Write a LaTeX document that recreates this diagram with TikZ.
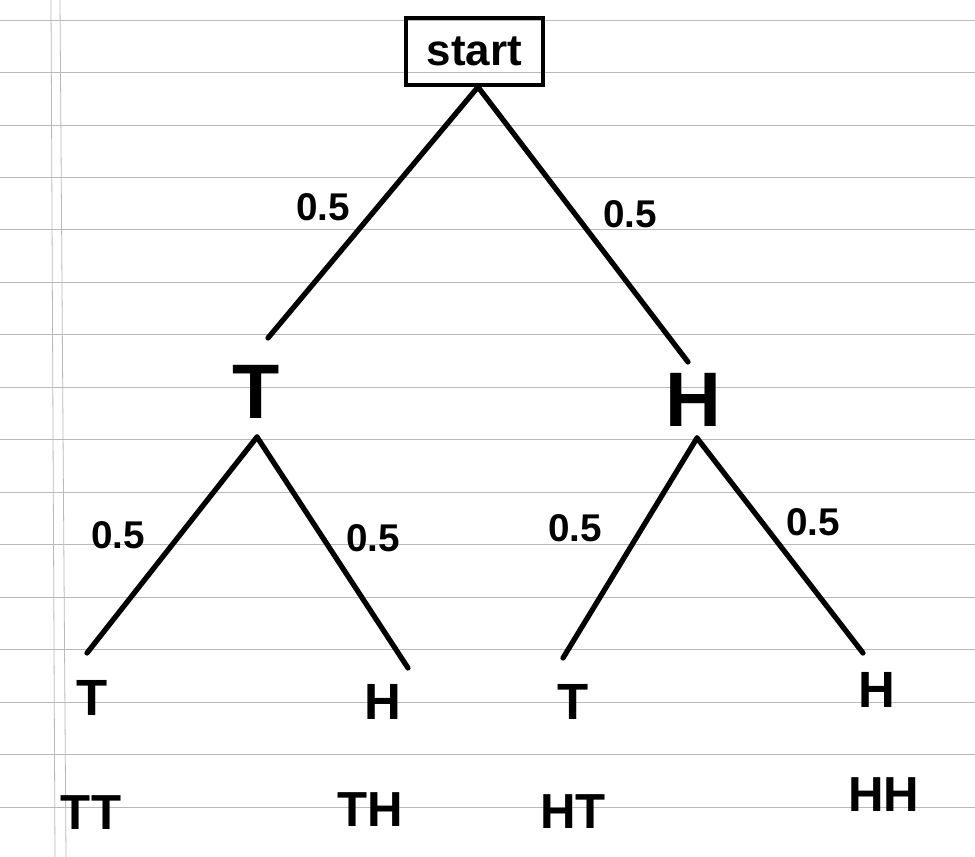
\documentclass[tikz,border=0pt]{standalone}
\usepackage{fontspec}
\setmainfont{Liberation Sans}
\begin{document}
\begin{tikzpicture}[x=0.02cm,y=-0.02cm,
  rule/.style={gray!55,line width=0.45pt},
  edge/.style={line width=3pt,line cap=round,black},
  big/.style={inner sep=0pt,font=\fontsize{44}{50}\selectfont\bfseries},
  leaf/.style={inner sep=0pt,font=\fontsize{29}{34}\selectfont\bfseries},
  outc/.style={inner sep=0pt,font=\fontsize{28}{33}\selectfont\bfseries},
  prob/.style={inner sep=0pt,font=\fontsize{22}{26}\selectfont\bfseries},
  startbox/.style={draw,line width=2.4pt,inner sep=0pt,minimum width=2.74cm,minimum height=1.34cm,font=\fontsize{25}{30}\selectfont\bfseries}]
\useasboundingbox[fill=white] (0,0) rectangle (975,857);
% ruled paper
\foreach \k in {0,...,15}
  \draw[rule] (0,{20+52.47*\k}) -- (975,{20+52.47*\k});
\draw[rule] (51,0) -- (55,857);
\draw[rule] (60,0) -- (66,857);
% nodes
\node[startbox] (start) at (474.5,51.5) {start};
\node[big] (T1) at (256,392) {T};
\node[big] (H1) at (693,400) {H};
\node[leaf] (TT1) at (92,698) {T};
\node[leaf] (TH1) at (383,702) {H};
\node[leaf] (HT1) at (573,702) {T};
\node[leaf] (HH1) at (877,690) {H};
\node[outc] (TT) at (91,813) {TT};
\node[outc] (TH) at (370,810) {TH};
\node[outc] (HT) at (573,812) {HT};
\node[outc] (HH) at (884,795) {HH};
\node[prob] (p1) at (323,207) {0.5};
\node[prob] (p2) at (630,214) {0.5};
\node[prob] (p3) at (118,535) {0.5};
\node[prob] (p4) at (373,538) {0.5};
\node[prob] (p5) at (575,528) {0.5};
\node[prob] (p6) at (813,522) {0.5};
% connector end points
\coordinate (r0) at (478,87);
\coordinate (eT1) at (268,338);
\coordinate (eH1) at (688,362);
\coordinate (aT1) at (257,437);
\coordinate (aH1) at (697,438);
\coordinate (eTT) at (87,653);
\coordinate (eTH) at (408,668);
\coordinate (eHT) at (563,658);
\coordinate (eHH) at (863,653);
% connectors
\draw[edge] (r0) -- (eT1);
\draw[edge] (r0) -- (eH1);
\draw[edge] (aT1) -- (eTT);
\draw[edge] (aT1) -- (eTH);
\draw[edge] (aH1) -- (eHT);
\draw[edge] (aH1) -- (eHH);
\end{tikzpicture}
\end{document}
